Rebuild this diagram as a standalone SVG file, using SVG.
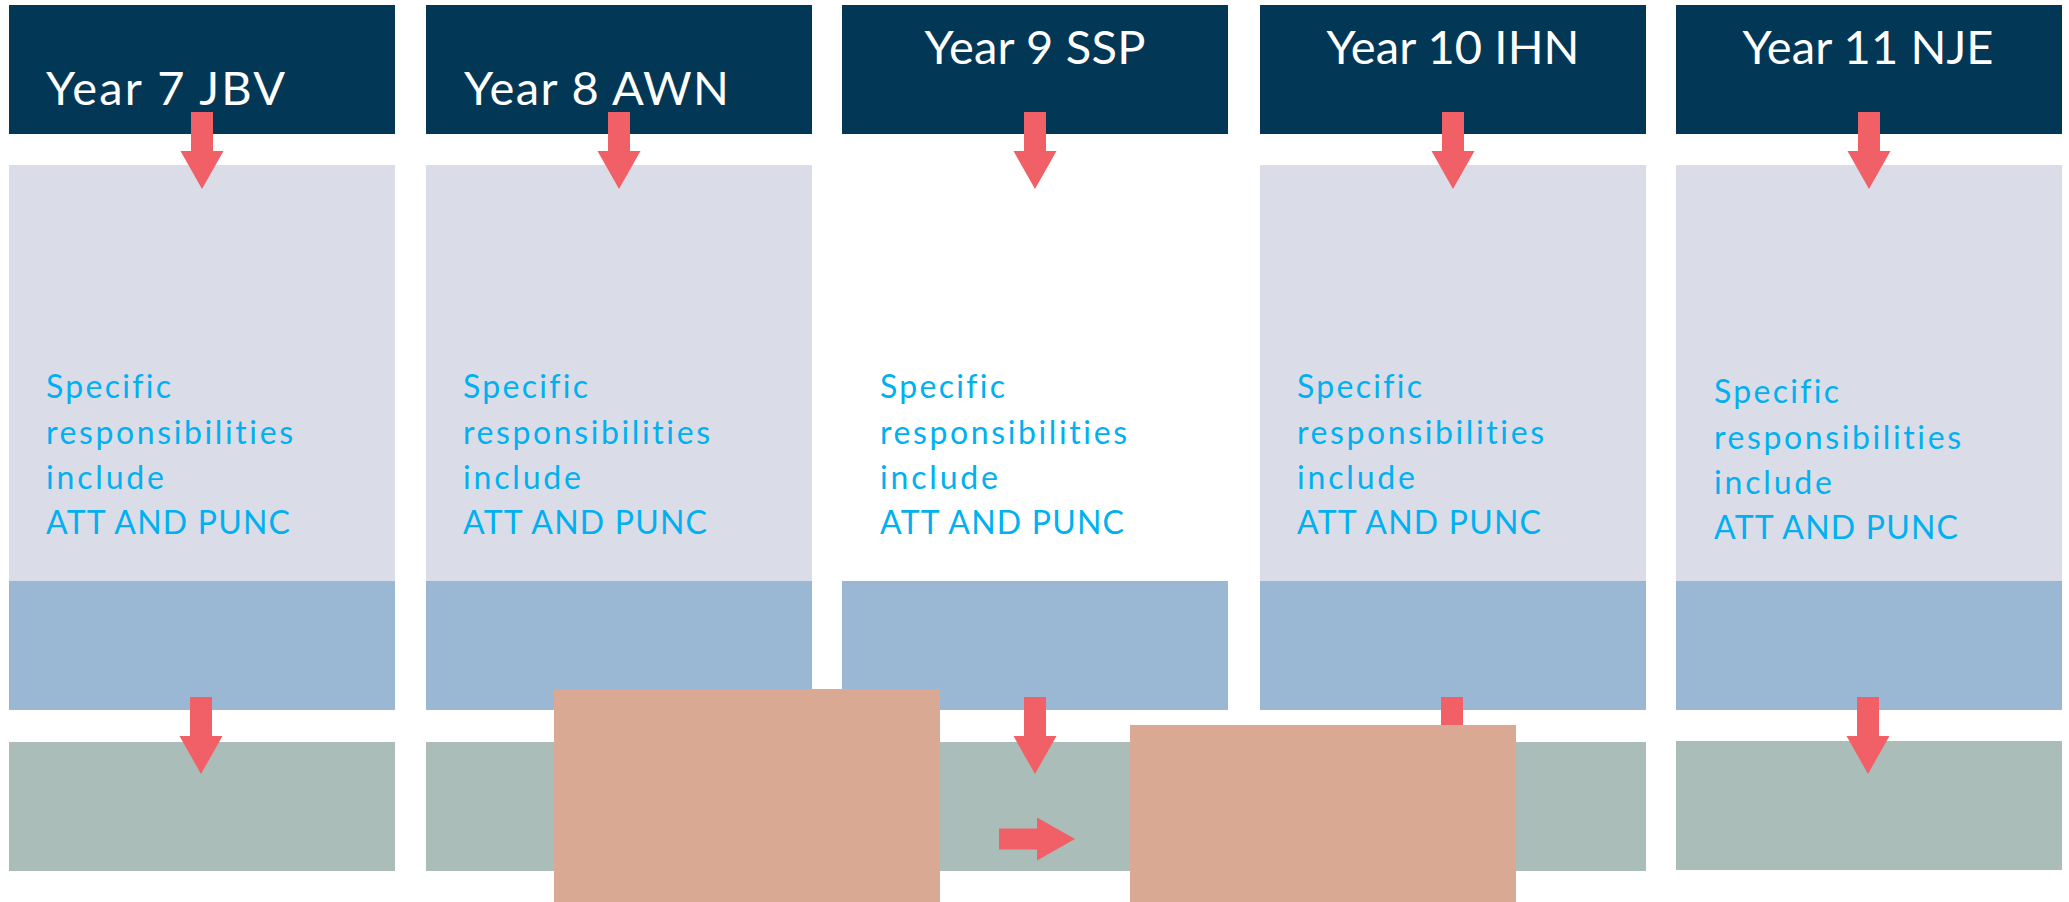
<svg xmlns="http://www.w3.org/2000/svg" width="2069" height="902" viewBox="0 0 2069 902">
  <style>
    .hdr { fill: #023756; }
    .light { fill: #DADCE8; }
    .blue { fill: #9AB7D3; }
    .green { fill: #ABBDB9; }
    .orange { fill: #D9A993; }
    .arrow { fill: #F15F67; }
    .htext { font-family: Lato, "Open Sans", "Liberation Sans", sans-serif; font-size: 47px; fill: #FFFFFF; font-variant-ligatures: none; }
    .btext { font-family: Lato, "Open Sans", "Liberation Sans", sans-serif; font-size: 32px; fill: #00B0F0; font-variant-ligatures: none; }
  </style>
  <defs>
    <path id="down" d="M-11,0 H11 V39 H21.5 L0,77 L-21.5,39 H-11 Z"/>
  </defs>
  <rect width="2069" height="902" fill="#FFFFFF"/>

  <g id="col1">
    <rect class="hdr" x="9" y="5" width="386" height="129"/>
    <rect class="light" x="9" y="165" width="386" height="416"/>
    <rect class="blue" x="9" y="581" width="386" height="129"/>
    <rect class="green" x="9" y="742" width="386" height="129"/>
    <text class="htext" x="46" y="105" textLength="239" lengthAdjust="spacing">Year 7 JBV</text>
    <text class="btext" x="46" y="398" textLength="125" lengthAdjust="spacing">Specific</text>
    <text class="btext" x="46" y="443.5" textLength="247" lengthAdjust="spacing">responsibilities</text>
    <text class="btext" x="46" y="489" textLength="118" lengthAdjust="spacing">include</text>
    <text class="btext" x="46" y="534" textLength="244" lengthAdjust="spacing">ATT AND PUNC</text>
  </g>

  <g id="col2">
    <rect class="hdr" x="426" y="5" width="386" height="129"/>
    <rect class="light" x="426" y="165" width="386" height="416"/>
    <rect class="blue" x="426" y="581" width="386" height="129"/>
    <rect class="green" x="426" y="742" width="386" height="129"/>
    <text class="htext" x="464" y="105" textLength="265" lengthAdjust="spacing">Year 8 AWN</text>
    <text class="btext" x="463" y="398" textLength="125" lengthAdjust="spacing">Specific</text>
    <text class="btext" x="463" y="443.5" textLength="247" lengthAdjust="spacing">responsibilities</text>
    <text class="btext" x="463" y="489" textLength="118" lengthAdjust="spacing">include</text>
    <text class="btext" x="463" y="534" textLength="244" lengthAdjust="spacing">ATT AND PUNC</text>
  </g>

  <g id="col3">
    <rect class="hdr" x="842" y="5" width="386" height="129"/>
    <rect class="blue" x="842" y="581" width="386" height="129"/>
    <rect class="green" x="842" y="742" width="386" height="129"/>
    <text class="htext" x="1035" y="64" text-anchor="middle" textLength="221" lengthAdjust="spacing">Year 9 SSP</text>
    <text class="btext" x="880" y="398" textLength="125" lengthAdjust="spacing">Specific</text>
    <text class="btext" x="880" y="443.5" textLength="247" lengthAdjust="spacing">responsibilities</text>
    <text class="btext" x="880" y="489" textLength="118" lengthAdjust="spacing">include</text>
    <text class="btext" x="880" y="534" textLength="244" lengthAdjust="spacing">ATT AND PUNC</text>
  </g>

  <g id="col4">
    <rect class="hdr" x="1260" y="5" width="386" height="129"/>
    <rect class="light" x="1260" y="165" width="386" height="416"/>
    <rect class="blue" x="1260" y="581" width="386" height="129"/>
    <rect class="green" x="1260" y="742" width="386" height="129"/>
    <text class="htext" x="1453" y="64" text-anchor="middle" textLength="253" lengthAdjust="spacing">Year 10 IHN</text>
    <text class="btext" x="1297" y="398" textLength="125" lengthAdjust="spacing">Specific</text>
    <text class="btext" x="1297" y="443.5" textLength="247" lengthAdjust="spacing">responsibilities</text>
    <text class="btext" x="1297" y="489" textLength="118" lengthAdjust="spacing">include</text>
    <text class="btext" x="1297" y="534" textLength="244" lengthAdjust="spacing">ATT AND PUNC</text>
  </g>

  <g id="col5">
    <rect class="hdr" x="1676" y="5" width="386" height="129"/>
    <rect class="light" x="1676" y="165" width="386" height="416"/>
    <rect class="blue" x="1676" y="581" width="386" height="129"/>
    <rect class="green" x="1676" y="741" width="386" height="129"/>
    <text class="htext" x="1868" y="64" text-anchor="middle" textLength="251" lengthAdjust="spacing">Year 11 NJE</text>
    <text class="btext" x="1714" y="403" textLength="125" lengthAdjust="spacing">Specific</text>
    <text class="btext" x="1714" y="448.5" textLength="247" lengthAdjust="spacing">responsibilities</text>
    <text class="btext" x="1714" y="494" textLength="118" lengthAdjust="spacing">include</text>
    <text class="btext" x="1714" y="539" textLength="244" lengthAdjust="spacing">ATT AND PUNC</text>
  </g>

  <g id="connectors">
    <use href="#down" class="arrow" x="202" y="112"/>
    <use href="#down" class="arrow" x="619" y="112"/>
    <use href="#down" class="arrow" x="1035" y="112"/>
    <use href="#down" class="arrow" x="1453" y="112"/>
    <use href="#down" class="arrow" x="1869" y="112"/>
    <use href="#down" class="arrow" x="201" y="697"/>
    <use href="#down" class="arrow" x="1035" y="697"/>
    <use href="#down" class="arrow" x="1452" y="697"/>
    <use href="#down" class="arrow" x="1868" y="697"/>
    <path class="arrow" d="M999,828.5 H1037 V817.5 L1075,839 L1037,860.5 V849.5 H999 Z"/>
  </g>

  <g id="overlay-a">
    <rect class="orange" x="554" y="689" width="386" height="213"/>
  </g>
  <g id="overlay-b">
    <rect class="orange" x="1130" y="725" width="386" height="177"/>
  </g>
</svg>
